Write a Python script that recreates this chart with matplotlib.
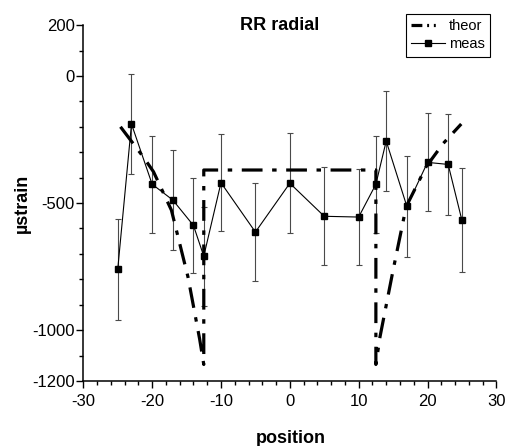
import matplotlib
matplotlib.use("Agg")
from matplotlib import pyplot as plt
from matplotlib.lines import Line2D
from matplotlib.ticker import FixedLocator, MultipleLocator

plt.rcParams['font.family'] = ['Liberation Sans', 'DejaVu Sans']
plt.rcParams['axes.unicode_minus'] = False

# measured strain with error bars
meas_x = [-25, -23, -20, -17, -14, -12.5, -10, -5, 0, 5, 10, 12.5, 14, 17, 20, 23, 25]
meas_y = [-761, -189, -426, -488, -588, -709, -420, -614, -422, -552, -555, -426, -256, -513, -340, -348, -568]
meas_err = [200, 195, 190, 197, 188, 195, 190, 193, 197, 192, 190, 190, 198, 199, 193, 200, 205]

# theoretical curve
theor_x = [-24.6, -21.3, -19.8, -17.2, -14.8, -13.1, -12.5, -12.5, 12.5, 12.5, 13.1, 15.0, 16.9, 19.8, 22.3, 24.9]
theor_y = [-200, -318, -377, -528, -790, -1035, -1135, -370, -370, -1135, -1026, -764, -514, -357, -265, -189]

y_major = [-1200, -1000, -500, 0, 200]

fig = plt.figure(figsize=(5.07, 4.46), dpi=100)
ax = fig.add_axes([0.1643, 0.1457, 0.8147, 0.798])

ax.errorbar(meas_x, meas_y, yerr=meas_err, fmt='none', ecolor='#4a4a4a',
            elinewidth=0.8, capsize=2, capthick=0.8, zorder=1)
# dash lengths are scaled by the line width
ax.plot(theor_x, theor_y, color='black', lw=2.3, linestyle=(0, (6.5, 3, 1.4, 3)),
        dash_capstyle='butt', zorder=2)
ax.plot(meas_x, meas_y, color='black', lw=0.8, marker='s', markersize=5, zorder=3)

ax.set_xlim(-30, 30)
ax.set_ylim(-1200, 200)
ax.xaxis.set_major_locator(MultipleLocator(10))
ax.xaxis.set_minor_locator(MultipleLocator(2))
ax.yaxis.set_major_locator(FixedLocator(y_major))
ax.yaxis.set_minor_locator(MultipleLocator(100))

for s in ['top', 'right']:
    ax.spines[s].set_visible(False)
for s in ['left', 'bottom']:
    ax.spines[s].set_linewidth(1.1)
ax.tick_params(which='major', direction='out', length=5, width=1.0, labelsize=12)
ax.tick_params(which='minor', direction='out', length=3, width=1.0)
ax.tick_params(axis='y', pad=1)
ax.tick_params(axis='x', pad=4)

fig.text(240 / 507, 1 - 29.5 / 446, 'RR radial', fontsize=13, fontweight='bold',
         ha='left', va='baseline')
fig.text(291 / 507, 1 - 443 / 446, 'position', fontsize=13, fontweight='bold',
         ha='center', va='baseline')
fig.text(22 / 507, 1 - 203 / 446, 'µstrain', fontsize=13, fontweight='bold',
         ha='center', va='center', rotation=90)

handles = [
    Line2D([], [], color='black', lw=2.3, dash_capstyle='butt',
           linestyle=(0, (3.4, 1.5, 0.6, 1.5, 0.6, 6))),
    Line2D([], [], color='black', lw=0.8, marker='s', markersize=5),
]
leg = ax.legend(handles, ['theor', 'meas'], loc='upper right',
                bbox_to_anchor=(490 / 507, 1 - 14 / 446), bbox_transform=fig.transFigure,
                borderaxespad=0, fancybox=False, framealpha=1, fontsize=10.5,
                handlelength=2.3, handletextpad=0.3, labelspacing=0.3,
                borderpad=0.35)
leg.get_frame().set_edgecolor('black')
leg.get_frame().set_linewidth(0.8)

fig.savefig('out.png', dpi=100)
